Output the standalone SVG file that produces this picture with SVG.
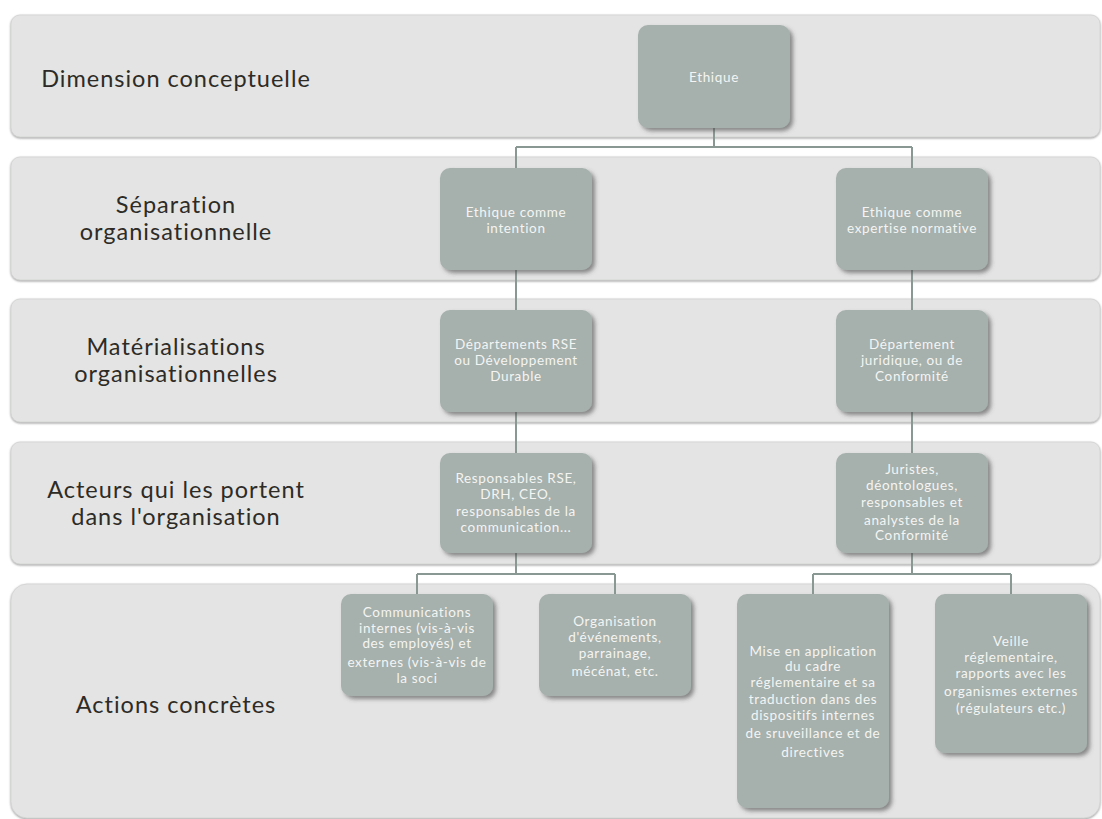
<svg xmlns="http://www.w3.org/2000/svg" width="1102" height="819" viewBox="0 0 1102 819">
<defs>
<filter id="bandShadow" x="-5%" y="-10%" width="110%" height="125%">
<feDropShadow dx="0" dy="1" stdDeviation="1.3" flood-color="#7a7a7a" flood-opacity="0.75"/>
</filter>
<filter id="nodeShadow" x="-10%" y="-10%" width="125%" height="125%">
<feDropShadow dx="3" dy="3" stdDeviation="2.2" flood-color="#4a4a4a" flood-opacity="0.6"/>
</filter>
</defs>
<style>
.band{fill:#e3e4e3;stroke:#d2d3d2;stroke-width:0.8;filter:url(#bandShadow);}
.lbl{font-family:Lato,"Liberation Sans",sans-serif;font-size:23.5px;letter-spacing:1px;fill:#2e2b26;text-anchor:middle;}
.node rect{fill:#a6b0ac;filter:url(#nodeShadow);}
.node text{font-family:Lato,"Liberation Sans",sans-serif;font-size:13.5px;letter-spacing:0.65px;fill:#f4f5f3;text-anchor:middle;}
.conn{fill:none;stroke:#8a9894;stroke-width:2;}
</style>
<g id="bands">
<rect class="band" x="11" y="15" width="1089" height="122" rx="9"/>
<rect class="band" x="11" y="157" width="1089" height="123" rx="9"/>
<rect class="band" x="11" y="299" width="1089" height="123" rx="9"/>
<rect class="band" x="11" y="442" width="1089" height="122" rx="9"/>
<rect class="band" x="11" y="584" width="1089" height="234" rx="16"/>
</g>
<g id="labels">
<text class="lbl" x="176" y="87.2">Dimension conceptuelle</text>
<text class="lbl" x="176" y="213.2">Séparation</text>
<text class="lbl" x="176" y="240.2">organisationnelle</text>
<text class="lbl" x="176" y="355.2">Matérialisations</text>
<text class="lbl" x="176" y="382.2">organisationnelles</text>
<text class="lbl" x="176" y="497.7">Acteurs qui les portent</text>
<text class="lbl" x="176" y="524.7">dans l'organisation</text>
<text class="lbl" x="176" y="713.2">Actions concrètes</text>
</g>
<g id="connectors">
<path class="conn" d="M714 128 V147 M516 147 H912 M516 147 V168 M912 147 V168"/>
<path class="conn" d="M516 270 V310 M912 270 V310"/>
<path class="conn" d="M516 412 V453 M912 412 V453"/>
<path class="conn" d="M516 553 V574 M417 574 H615 M417 574 V594 M615 574 V594"/>
<path class="conn" d="M912 553 V574 M813 574 H1011 M813 574 V594 M1011 574 V594"/>
</g>
<g id="n-ethique" class="node">
<rect x="638" y="25" width="152" height="103" rx="10"/>
<text x="714" y="81.8">Ethique</text>
</g>
<g id="n-intention" class="node">
<rect x="440" y="168" width="152" height="102" rx="10"/>
<text x="516" y="216.8">Ethique comme</text>
<text x="516" y="232.8">intention</text>
</g>
<g id="n-expertise" class="node">
<rect x="836" y="168" width="152" height="102" rx="10"/>
<text x="912" y="216.8">Ethique comme</text>
<text x="912" y="232.8">expertise normative</text>
</g>
<g id="n-rse" class="node">
<rect x="440" y="310" width="152" height="102" rx="10"/>
<text x="516" y="349.3">Départements RSE</text>
<text x="516" y="365.3">ou Développement</text>
<text x="516" y="381.3">Durable</text>
</g>
<g id="n-juridique" class="node">
<rect x="836" y="310" width="152" height="102" rx="10"/>
<text x="912" y="349.3">Département</text>
<text x="912" y="365.3">juridique, ou de</text>
<text x="912" y="381.3">Conformité</text>
</g>
<g id="n-responsables" class="node">
<rect x="440" y="453" width="152" height="100" rx="10"/>
<text x="516" y="483.3">Responsables RSE,</text>
<text x="516" y="499.3">DRH, CEO,</text>
<text x="516" y="515.8">responsables de la</text>
<text x="516" y="532.3">communication...</text>
</g>
<g id="n-juristes" class="node">
<rect x="836" y="453" width="152" height="100" rx="10"/>
<text x="912" y="474.3">Juristes,</text>
<text x="912" y="490.3">déontologues,</text>
<text x="912" y="506.8">responsables et</text>
<text x="912" y="524.8">analystes de la</text>
<text x="912" y="540.3">Conformité</text>
</g>
<g id="n-communications" class="node">
<rect x="341" y="594" width="152" height="102" rx="10"/>
<text x="417" y="616.8">Communications</text>
<text x="417" y="632.8">internes (vis-à-vis</text>
<text x="417" y="648.3">des employés) et</text>
<text x="417" y="667.3">externes (vis-à-vis de</text>
<text x="417" y="683.3">la soci</text>
</g>
<g id="n-organisation" class="node">
<rect x="539" y="594" width="152" height="102" rx="10"/>
<text x="615" y="625.8">Organisation</text>
<text x="615" y="641.8">d'événements,</text>
<text x="615" y="657.8">parrainage,</text>
<text x="615" y="676.3">mécénat, etc.</text>
</g>
<g id="n-application" class="node">
<rect x="737" y="594" width="152" height="214" rx="10"/>
<text x="813" y="656.3">Mise en application</text>
<text x="813" y="670.8">du cadre</text>
<text x="813" y="686.8">réglementaire et sa</text>
<text x="813" y="704.3">traduction dans des</text>
<text x="813" y="720.3">dispositifs internes</text>
<text x="813" y="738.3">de sruveillance et de</text>
<text x="813" y="756.8">directives</text>
</g>
<g id="n-veille" class="node">
<rect x="935" y="594" width="152" height="159" rx="10"/>
<text x="1011" y="646.3">Veille</text>
<text x="1011" y="661.8">réglementaire,</text>
<text x="1011" y="678.3">rapports avec les</text>
<text x="1011" y="696.3">organismes externes</text>
<text x="1011" y="712.8">(régulateurs etc.)</text>
</g>
</svg>
